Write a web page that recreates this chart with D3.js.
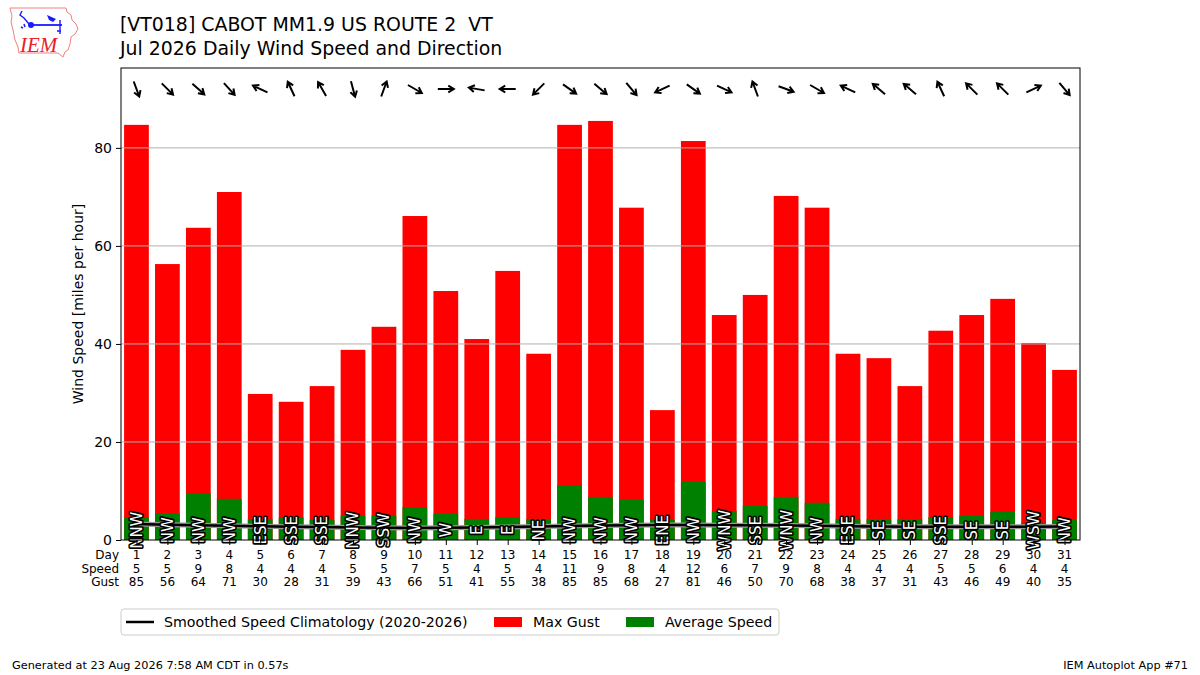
<!DOCTYPE html>
<html>
<head>
<meta charset="utf-8">
<script src="https://cdn.jsdelivr.net/npm/d3@7"></script>
<style>
  body { margin: 0; background: #fff; }
  svg text { font-family: "DejaVu Sans", sans-serif; white-space: pre; }
</style>
</head>
<body>
<div id="chart"></div>
<script>
// daily values
const days = d3.range(1, 32);
const gust = [84.7, 56.3, 63.7, 71.0, 29.8, 28.2, 31.4, 38.8, 43.5, 66.1, 50.8, 41.0, 54.9, 38.0, 84.7, 85.5,
  67.8, 26.5, 81.4, 45.9, 50.0, 70.2, 67.8, 38.0, 37.1, 31.4, 42.7, 45.9, 49.2, 40.2, 34.7];
const speed = [4.7, 5.4, 9.6, 8.4, 4.3, 4.6, 4.1, 5.0, 5.0, 6.7, 5.4, 4.3, 4.7, 4.3, 11.2, 8.8,
  8.2, 4.1, 11.9, 5.9, 7.0, 8.8, 7.6, 4.3, 4.3, 4.3, 4.7, 5.0, 5.8, 3.5, 4.1];
const climo = [3.25, 3.1, 3.0, 2.9, 2.8, 2.7, 2.65, 2.55, 2.5, 2.45, 2.5, 2.55, 2.65, 2.75, 2.85, 2.95,
  3.0, 3.05, 3.05, 3.0, 3.0, 2.95, 2.9, 2.8, 2.75, 2.7, 2.7, 2.7, 2.7, 2.7, 2.75];
const dirDeg = [340, 315, 312, 318, 115, 155, 150, 345, 200, 300, 270, 100, 90, 45, 305, 310,
  320, 65, 305, 295, 160, 290, 300, 115, 130, 130, 155, 135, 135, 245, 320];
const dirText = ["NNW", "NW", "NW", "NW", "ESE", "SSE", "SSE", "NNW", "SSW", "NW", "W", "E", "E", "NE", "NW", "NW",
  "NW", "ENE", "NW", "WNW", "SSE", "WNW", "NW", "ESE", "SE", "SE", "SSE", "SE", "SE", "WSW", "NW"];
const speedLabels = [5, 5, 9, 8, 4, 4, 4, 5, 5, 7, 5, 4, 5, 4, 11, 9, 8, 4, 12, 6, 7, 9, 8, 4, 4, 4, 5, 5, 6, 4, 4];
const gustLabels = [85, 56, 64, 71, 30, 28, 31, 39, 43, 66, 51, 41, 55, 38, 85, 85, 68, 27, 81, 46, 50, 70, 68,
  38, 37, 31, 43, 46, 49, 40, 35];
const yTicks = [0, 20, 40, 60, 80];

const W = 1200, H = 675;
const m = { left: 121, right: 1080, top: 68, bottom: 540 };

const svg = d3.select("#chart").append("svg")
  .attr("width", W).attr("height", H)
  .attr("viewBox", "0 0 " + W + " " + H);

const x = d3.scaleLinear().domain([0.5, 31.5]).range([m.left, m.right]);
const y = d3.scaleLinear().domain([0, 96.3]).range([m.bottom, m.top]);
const bw = (x(1) - x(0)) * 0.8;

// titles
svg.append("text").attr("x", 120).attr("y", 31).style("font-size", "18.9px")
  .text("[VT018] CABOT MM1.9 US ROUTE 2  VT");
svg.append("text").attr("x", 120).attr("y", 55).style("font-size", "18.9px")
  .text("Jul 2026 Daily Wind Speed and Direction");

// logo, rough
const logo = svg.append("g");
logo.append("path")
  .attr("d", "M10,8 L66,8 L67,12 L71,15 L72,20 L76,24 L78,29 L75,34 L71,37 L70,44 L68,50 L65,52 L63,57 L58,53 L19,53 L18,47 L15,40 L13,30 L11,22 L12,16 Z")
  .attr("fill", "none").attr("stroke", "#f08080").attr("stroke-width", 1);
logo.append("line").attr("x1", 31).attr("y1", 25).attr("x2", 62).attr("y2", 25)
  .attr("stroke", "#1a1aff").attr("stroke-width", 1.8);
logo.append("circle").attr("cx", 31).attr("cy", 25).attr("r", 3).attr("fill", "#1a1aff");
logo.append("path").attr("d", "M47,15 L56,19 L53,22 L49,20 Z").attr("fill", "#1a1aff");
logo.append("path").attr("d", "M60,20 L60,34 M57,31 L61,31 M22,11 L20,15 L24,18 L29,24").attr("stroke", "#1a1aff")
  .attr("fill", "none").attr("stroke-width", 1.4);
logo.append("path").attr("d", "M24,24 L25,27 M21,27 L23,28").attr("stroke", "#1a1aff").attr("stroke-width", 1.5);
logo.append("text").attr("x", 20).attr("y", 52)
  .style("font-family", "'Liberation Serif', serif").style("font-style", "italic")
  .style("font-size", "21px").attr("fill", "#e8202a").text("IEM");

// bars
svg.append("g").selectAll("rect").data(days).join("rect")
  .attr("x", d => x(d) - bw / 2).attr("width", bw)
  .attr("y", (d, i) => y(gust[i])).attr("height", (d, i) => y(0) - y(gust[i]))
  .attr("fill", "#ff0000");
svg.append("g").selectAll("rect").data(days).join("rect")
  .attr("x", d => x(d) - bw / 2).attr("width", bw)
  .attr("y", (d, i) => y(speed[i])).attr("height", (d, i) => y(0) - y(speed[i]))
  .attr("fill", "#008000");

// grid on top of bars
svg.append("g").selectAll("line").data(yTicks.filter(v => v > 0)).join("line")
  .attr("x1", m.left).attr("x2", m.right)
  .attr("y1", d => y(d)).attr("y2", d => y(d))
  .attr("stroke", "#b0b0b0").attr("stroke-width", 1);

// climatology line with halo
const line = d3.line().x((d, i) => x(days[i])).y(d => y(d));
svg.append("path").datum(climo).attr("d", line)
  .attr("fill", "none").attr("stroke", "#999").attr("stroke-width", 5);
svg.append("path").datum(climo).attr("d", line)
  .attr("fill", "none").attr("stroke", "#000").attr("stroke-width", 2.5);

// direction labels
svg.append("g").selectAll("text").data(days).join("text")
  .attr("transform", d => "translate(" + x(d) + "," + y(2) + ") rotate(-90)")
  .attr("text-anchor", "middle").attr("dy", "0.36em")
  .style("font-size", "15px")
  .attr("fill", "#fff").attr("stroke", "#000").attr("stroke-width", 3.2)
  .attr("stroke-linejoin", "round")
  .attr("paint-order", "stroke")
  .text((d, i) => dirText[i]);

// direction arrows (pointing where the wind blows to)
const L = 16, hl = 6.5;
svg.append("g").selectAll("path").data(days).join("path")
  .attr("d", (d, i) => {
    const a = (dirDeg[i] + 180) * Math.PI / 180;
    const ux = Math.sin(a), uy = -Math.cos(a);
    const cx = x(d), cy = 89;
    const tx = cx + ux * L / 2, ty = cy + uy * L / 2;
    const sx = cx - ux * L / 2, sy = cy - uy * L / 2;
    const h1 = a + Math.PI - 0.55, h2 = a + Math.PI + 0.55;
    return "M" + sx + "," + sy + "L" + tx + "," + ty +
      "M" + (tx + Math.sin(h1) * hl) + "," + (ty - Math.cos(h1) * hl) +
      "L" + tx + "," + ty +
      "L" + (tx + Math.sin(h2) * hl) + "," + (ty - Math.cos(h2) * hl);
  })
  .attr("fill", "none").attr("stroke", "#000").attr("stroke-width", 2)
  .attr("stroke-linejoin", "miter");

// frame
svg.append("rect").attr("x", m.left).attr("y", m.top)
  .attr("width", m.right - m.left).attr("height", m.bottom - m.top)
  .attr("fill", "none").attr("stroke", "#000").attr("stroke-width", 1);

// y axis
const yAxis = svg.append("g").attr("transform", "translate(" + m.left + ",0)")
  .call(d3.axisLeft(y).tickValues(yTicks).tickSize(5).tickPadding(4));
yAxis.select(".domain").remove();
yAxis.selectAll("text").style("font-size", "14px").style("font-family", "DejaVu Sans");
svg.append("text").attr("transform", "translate(83," + ((m.top + m.bottom) / 2) + ") rotate(-90)")
  .attr("text-anchor", "middle").style("font-size", "14px").text("Wind Speed [miles per hour]");

// x axis with three label rows
const xAxis = svg.append("g").attr("transform", "translate(0," + m.bottom + ")")
  .call(d3.axisBottom(x).tickValues(days).tickSize(5).tickFormat(""));
xAxis.select(".domain").remove();
const rows = [days, speedLabels, gustLabels];
const rowNames = ["Day", "Speed", "Gust"];
rows.forEach((r, k) => {
  svg.append("g").selectAll("text").data(r).join("text")
    .attr("x", (d, i) => x(days[i])).attr("y", 559 + k * 13.5)
    .attr("text-anchor", "middle").style("font-size", "12px").text(d => d);
  svg.append("text").attr("x", 119).attr("y", 559 + k * 13.5)
    .attr("text-anchor", "end").style("font-size", "12px").text(rowNames[k]);
});

// legend
const lg = svg.append("g");
lg.append("rect").attr("x", 121).attr("y", 609).attr("width", 658).attr("height", 26).attr("rx", 3)
  .attr("fill", "#fff").attr("stroke", "#ccc");
lg.append("line").attr("x1", 126).attr("x2", 154).attr("y1", 622).attr("y2", 622)
  .attr("stroke", "#000").attr("stroke-width", 2.5);
lg.append("text").attr("x", 164).attr("y", 627).style("font-size", "14.2px")
  .text("Smoothed Speed Climatology (2020-2026)");
lg.append("rect").attr("x", 494).attr("y", 617).attr("width", 28).attr("height", 10).attr("fill", "#ff0000");
lg.append("text").attr("x", 533).attr("y", 627).style("font-size", "14.2px").text("Max Gust");
lg.append("rect").attr("x", 626).attr("y", 617).attr("width", 28).attr("height", 10).attr("fill", "#008000");
lg.append("text").attr("x", 665).attr("y", 627).style("font-size", "14.2px").text("Average Speed");

// footer
svg.append("text").attr("x", 12).attr("y", 669).style("font-size", "11.3px")
  .text("Generated at 23 Aug 2026 7:58 AM CDT in 0.57s");
svg.append("text").attr("x", 1188).attr("y", 669).attr("text-anchor", "end").style("font-size", "11.3px")
  .text("IEM Autoplot App #71");
</script>
</body>
</html>
